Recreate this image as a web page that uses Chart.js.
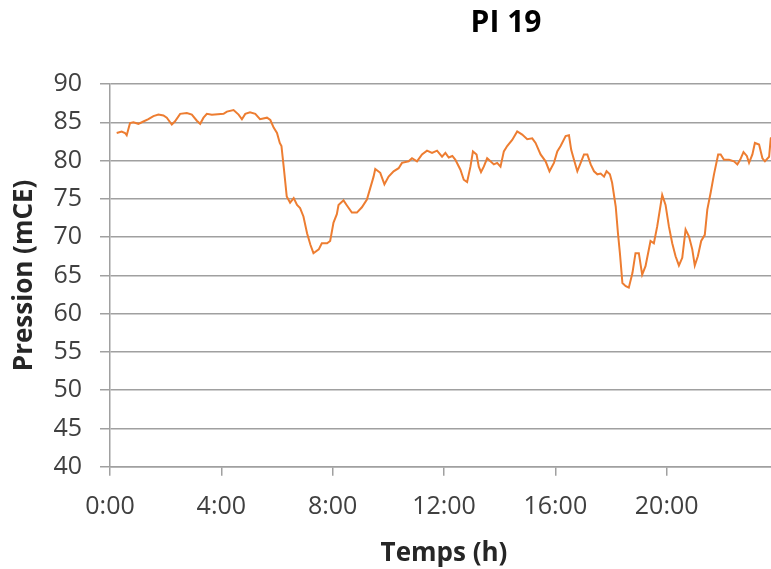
<!DOCTYPE html>
<html lang="fr">
<head>
<meta charset="utf-8">
<title>PI 19</title>
<script src="https://cdn.jsdelivr.net/npm/chart.js@4.4.1/dist/chart.umd.min.js"></script>
<style>
    html, body { margin: 0; padding: 0; background: #fff; overflow: hidden; }
    #zone { position: relative; width: 771px; height: 569px; overflow: hidden; }
    canvas { display: block; }
</style>
</head>
<body>
<div id="zone"><canvas id="graphePression" width="800" height="569"></canvas></div>
<script>
// Heures (décimales) et pression
const heures = [
    0.24, 0.42, 0.54, 0.60, 0.72, 0.84, 1.02, 1.20, 1.38, 1.56, 1.74, 1.92, 2.04, 2.22, 2.33,
    2.52, 2.76, 2.94, 3.12, 3.24, 3.36, 3.48, 3.66, 4.08, 4.20, 4.44, 4.62, 4.74, 4.86, 5.03,
    5.22, 5.39, 5.64, 5.76, 5.88, 6.00, 6.10, 6.16, 6.24, 6.35, 6.47, 6.60, 6.72, 6.83, 6.95,
    7.08, 7.20, 7.31, 7.50, 7.61, 7.80, 7.91, 8.03, 8.15, 8.21, 8.39, 8.50, 8.69, 8.87, 9.05,
    9.23, 9.35, 9.47, 9.53, 9.71, 9.86, 10.01, 10.19, 10.37, 10.49, 10.73, 10.85, 11.03, 11.21, 11.39,
    11.57, 11.75, 11.93, 12.05, 12.17, 12.30, 12.41, 12.59, 12.71, 12.83, 12.95, 13.04, 13.17, 13.25, 13.33,
    13.43, 13.55, 13.67, 13.79, 13.91, 14.03, 14.15, 14.27, 14.45, 14.63, 14.81, 14.99, 15.17, 15.29, 15.47,
    15.65, 15.79, 15.95, 16.07, 16.19, 16.37, 16.49, 16.57, 16.67, 16.79, 16.91, 17.03, 17.15, 17.27, 17.39,
    17.51, 17.63, 17.75, 17.84, 17.96, 18.04, 18.17, 18.25, 18.32, 18.41, 18.53, 18.64, 18.77, 18.88, 19.00,
    19.12, 19.24, 19.42, 19.54, 19.66, 19.84, 19.96, 20.08, 20.20, 20.32, 20.44, 20.56, 20.68, 20.80, 20.92,
    21.01, 21.12, 21.24, 21.37, 21.46, 21.58, 21.70, 21.85, 21.94, 22.06, 22.24, 22.42, 22.54, 22.64, 22.76,
    22.88, 22.96, 23.08, 23.17, 23.32, 23.44, 23.53, 23.68, 23.74, 23.85
];
const pression = [
    83.6, 83.8, 83.6, 83.3, 84.9, 85.0, 84.8, 85.1, 85.4, 85.8, 86.0, 85.9, 85.6, 84.7, 85.1,
    86.1, 86.2, 86.0, 85.2, 84.8, 85.6, 86.1, 86.0, 86.1, 86.4, 86.6, 86.0, 85.4, 86.1, 86.3,
    86.1, 85.4, 85.6, 85.3, 84.3, 83.6, 82.3, 81.9, 79.2, 75.3, 74.5, 75.1, 74.2, 73.8, 72.7,
    70.5, 69.0, 67.9, 68.4, 69.2, 69.2, 69.5, 71.9, 73.0, 74.2, 74.8, 74.2, 73.2, 73.2, 73.9,
    74.9, 76.4, 77.9, 78.9, 78.4, 76.9, 77.9, 78.6, 79.0, 79.7, 79.9, 80.3, 79.9, 80.8, 81.3,
    81.0, 81.3, 80.5, 81.0, 80.4, 80.6, 80.1, 78.8, 77.5, 77.2, 79.2, 81.2, 80.8, 79.2, 78.5,
    79.2, 80.3, 79.9, 79.5, 79.7, 79.2, 81.2, 81.9, 82.7, 83.8, 83.4, 82.8, 82.9, 82.3, 80.8,
    79.9, 78.6, 79.7, 81.2, 81.9, 83.2, 83.3, 81.4, 80.1, 78.6, 79.7, 80.8, 80.8, 79.5, 78.6,
    78.2, 78.3, 77.9, 78.6, 78.2, 77.1, 74.0, 70.5, 67.9, 64.0, 63.6, 63.4, 65.3, 67.9, 67.9,
    65.1, 66.2, 69.5, 69.2, 71.4, 75.5, 74.2, 71.4, 69.2, 67.5, 66.3, 67.3, 71.0, 70.1, 68.4,
    66.3, 67.5, 69.5, 70.3, 73.6, 75.8, 78.2, 80.8, 80.8, 80.1, 80.1, 79.9, 79.5, 80.1, 81.1,
    80.6, 79.7, 80.8, 82.3, 82.1, 80.3, 79.9, 80.5, 82.9, 83.2
];
const heuresTicks = [0, 4, 8, 12, 16, 20];
const titre = 'PI 19';

const gris = '#a0a0a0';
const police = 'Open Sans';

// titre centré comme dans le graphique Excel d'origine
const titrePlugin = {
    id: 'titrePlugin',
    afterDraw(chart) {
        const c = chart.ctx;
        c.save();
        c.font = 'bold 30px "' + police + '"';
        c.fillStyle = '#000';
        c.textAlign = 'center';
        c.textBaseline = 'middle';
        c.fillText(titre, 506, 23);
        c.restore();
    }
};

const ctx = document.getElementById('graphePression');

new Chart(ctx, {
    type: 'line',
    data: {
        datasets: [{
            label: titre,
            data: heures.map((h, i) => ({ x: h, y: pression[i] })),
            borderColor: '#ed7d31',
            borderWidth: 2,
            pointRadius: 0,
            tension: 0,
            fill: false
        }]
    },
    options: {
        responsive: false,
        animation: false,
        layout: { padding: { top: 84, right: 22, left: 0, bottom: 0 } },
        plugins: {
            legend: { display: false },
            tooltip: { enabled: false },
            title: { display: false }
        },
        scales: {
            x: {
                type: 'linear',
                min: 0,
                max: 24,
                afterBuildTicks: (s) => { s.ticks = heuresTicks.map(v => ({ value: v })); },
                grid: { drawOnChartArea: false, drawTicks: true, tickLength: 9, color: gris, lineWidth: 1.5 },
                border: { color: gris, width: 1.5 },
                ticks: {
                    padding: 16,
                    maxRotation: 0,
                    color: '#404040',
                    font: { family: police, size: 25 },
                    callback: (v) => v + ':00'
                },
                title: {
                    display: true,
                    text: 'Temps (h)',
                    color: '#262626',
                    font: { family: police, size: 26, weight: 'bold' },
                    padding: 0
                }
            },
            y: {
                min: 40,
                max: 90,
                afterFit: (s) => { s.width = 110; },
                grid: { color: gris, lineWidth: 1.5, tickLength: 10 },
                border: { color: gris, width: 1.5 },
                ticks: {
                    stepSize: 5,
                    padding: 18,
                    color: '#404040',
                    font: { family: police, size: 25 }
                },
                title: {
                    display: true,
                    text: 'Pression (mCE)',
                    color: '#262626',
                    font: { family: police, size: 26, weight: 'bold' },
                    padding: { top: 9, bottom: 0 }
                }
            }
        }
    },
    plugins: [titrePlugin]
});
</script>
</body>
</html>
